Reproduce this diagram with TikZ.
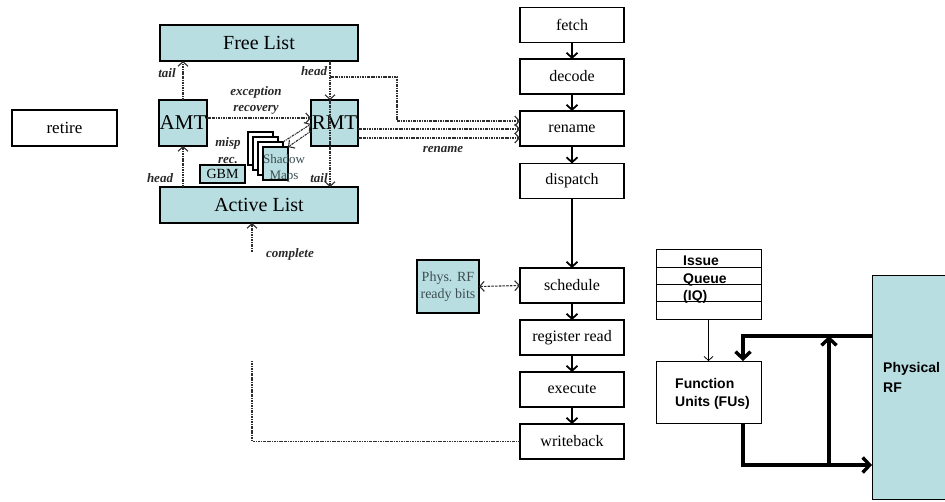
\documentclass[tikz,border=0pt]{standalone}
\usepackage{fontspec}
\setmainfont{Liberation Serif}
\setsansfont{Liberation Sans}
\usetikzlibrary{arrows.meta,calc}
\definecolor{teal1}{RGB}{185,222,225}
\definecolor{lblgray}{RGB}{40,40,40}
\definecolor{dashgray}{RGB}{45,45,45}
\definecolor{boxtxt}{RGB}{60,78,82}
\tikzset{
  stage/.style={draw, line width=1.8pt, minimum width=104pt, minimum height=35pt, inner sep=0pt, outer sep=0pt, font=\fontsize{16}{18}\selectfont},
  tbox/.style={draw, line width=1.3pt, fill=teal1, inner sep=0pt, outer sep=0pt},
  page/.style={draw, line width=1.1pt, fill=white, minimum width=25pt, minimum height=33pt, inner sep=0pt, outer sep=0pt},
  dsh/.style={draw=dashgray, line width=1.1pt, dash pattern=on 2.5pt off 0.9pt on 1pt off 0.9pt},
  lbl/.style={font=\fontsize{13}{14}\selectfont\bfseries\itshape, text=lblgray, inner sep=0pt},
  tarr/.style={-{Straight Barb[length=4.5pt,width=10pt]}},
  parr/.style={line width=1.8pt, -{Straight Barb[length=5pt,width=11pt]}},
  thk/.style={line width=3.4pt, -{Straight Barb[length=7pt,width=15pt]}},
  sflbl/.style={font=\sffamily\bfseries\fontsize{14}{17.5}\selectfont, align=left, anchor=west, inner sep=0pt}
}
\begin{document}
\begin{tikzpicture}[x=1pt,y=-1pt]
\useasboundingbox (0,0) rectangle (945,501);

% pipeline
\node[stage] (fetch) at (572,25) {fetch};
\node[stage] (decode) at (572,76.5) {decode};
\node[stage] (rename) at (572,128.5) {rename};
\node[stage] (dispatch) at (572,181) {dispatch};
\node[stage] (schedule) at (572,285.5) {schedule};
\node[stage] (regread) at (572,337.5) {register read};
\node[stage] (execute) at (572,389.5) {execute};
\node[stage] (writeback) at (572,441.5) {writeback};
\draw[parr] (fetch.south) -- (decode.north);
\draw[parr] (decode.south) -- (rename.north);
\draw[parr] (rename.south) -- (dispatch.north);
\draw[parr] (dispatch.south) -- (schedule.north);
\draw[parr] (schedule.south) -- (regread.north);
\draw[parr] (regread.south) -- (execute.north);
\draw[parr] (execute.south) -- (writeback.north);

% retire
\node[draw, line width=1.8pt, minimum width=105pt, minimum height=36pt, inner sep=0pt, outer sep=0pt, font=\fontsize{17}{19}\selectfont] (retire) at (64.5,128) {retire};

% rename structures
\node[tbox, minimum width=198pt, minimum height=36pt, font=\fontsize{20}{22}\selectfont] (FL) at (259,43) {Free List};
\node[tbox, minimum width=198pt, minimum height=36pt, font=\fontsize{20}{22}\selectfont] (AL) at (259,205) {Active List};
\node[tbox, minimum width=48pt, minimum height=46pt, font=\fontsize{21}{23}\selectfont] (AMT) at (183,123) {AMT};
\node[tbox, minimum width=47pt, minimum height=46pt, font=\fontsize{21}{23}\selectfont] (RMT) at (334.5,123) {RMT};
\node[tbox, minimum width=45pt, minimum height=18pt, font=\fontsize{14}{15}\selectfont] (GBM) at (222.5,174) {GBM};
\node[page] (sm1) at (260.5,148.5) {};
\node[page] (sm2) at (265.5,153.5) {};
\node[page] (sm3) at (270.5,158.5) {};
\node[page, fill=teal1] (sm4) at (275.5,163.5) {};
\node[font=\fontsize{13}{16}\selectfont, text=boxtxt, align=center, inner sep=0pt] (smt) at (284,168.5) {Shadow\\Maps};

% dashed connectors
\coordinate (hx) at (330,0);
\coordinate (fx) at (743,0);
\draw[dsh, tarr] (AMT.north) -- (AMT.north |- FL.south);
\draw[dsh, tarr] (AMT.south |- AL.north) -- (AMT.south);
\draw[dsh, tarr] (FL.south -| hx) -- (RMT.north -| hx);
\draw[dsh] (RMT.north -| hx) -- (RMT.south -| hx);
\draw[dsh, tarr] (RMT.south -| hx) -- (AL.north -| hx);
\coordinate (br) at (330,77);
\coordinate (b1) at (397,121);
\draw[dsh, tarr] (br) -| (b1) -- (b1 -| rename.west);
\draw[dsh, tarr] (RMT.east |- 0,129) -- (rename.west |- 0,129);
\draw[dsh, tarr] (RMT.east |- 0,138) -- (rename.west |- 0,138);
\draw[dsh, tarr] (AMT.east |- 0,118) -- (RMT.west |- 0,118);
\draw[dsh, tarr] (sm3.north east) -- (RMT.west |- 0,124);
\draw[dsh, tarr] (RMT.west |- 0,131) -- (sm4.north east);
\coordinate (cp) at (252,252);
\draw[dsh, tarr] (cp) -- (cp |- AL.south);
\coordinate (wb) at (252,360);
\draw[dsh] (writeback.west) -| (wb);

% labels
\node[lbl] (l1) at (167,73) {tail};
\node[lbl] (l2) at (314,71) {head};
\node[lbl, align=center, font=\fontsize{13}{16}\selectfont\bfseries\itshape] (l3) at (256,100) {exception\\recovery};
\node[lbl, align=center, font=\fontsize{13}{17}\selectfont\bfseries\itshape] (l4) at (228,151) {misp\\rec.};
\node[lbl] (l5) at (160,178) {head};
\node[lbl] (l6) at (319,178) {tail};
\node[lbl] (l7) at (290,254) {complete};
\node[lbl] (l8) at (443,150) {rename};

% phys RF ready bits
\node[tbox, minimum width=62pt, minimum height=53pt, align=center, text=boxtxt, font=\fontsize{14}{17}\selectfont] (prf) at (448,286.5) {Phys. RF\\ready bits};
\draw[dsh, dash pattern=on 2.5pt off 1.2pt, {Straight Barb[length=4.5pt,width=10pt]}-{Straight Barb[length=4.5pt,width=10pt]}] (prf.east) -- (schedule.west);

% right part
\node[draw, line width=1pt, minimum width=105pt, minimum height=70pt, inner sep=0pt, outer sep=0pt] (IQ) at (708.5,284) {};
\draw[line width=1pt] (IQ.west |- 0,267) -- (IQ.east |- 0,267);
\draw[line width=1pt] (IQ.west |- 0,284) -- (IQ.east |- 0,284);
\draw[line width=1pt] (IQ.west |- 0,301) -- (IQ.east |- 0,301);
\node[sflbl] (iqt) at (683,280) {Issue\\Queue\\(IQ)};
\node[draw, line width=1pt, minimum width=105pt, minimum height=62pt, inner sep=0pt, outer sep=0pt] (FU) at (708.5,392) {};
\node[sflbl] (fut) at (675,394) {Function\\Units (FUs)};
\node[draw, line width=1pt, fill=teal1, minimum width=78pt, minimum height=224pt, inner sep=0pt, outer sep=0pt, anchor=north west] (PRF) at (872,275) {};
\node[sflbl, font=\sffamily\bfseries\fontsize{14}{20}\selectfont] (prft) at (883,377) {Physical\\RF};
\draw[line width=0.8pt, -{Straight Barb[length=4pt,width=9pt]}] (IQ.south) -- (FU.north);
\draw[thk] (PRF.west |- 0,336) -| (FU.north -| fx);
\draw[thk] (FU.south -| fx) |- (PRF.west |- 0,465);
\coordinate (vj) at (829,465);
\draw[thk] (vj) -- (vj |- 0,336);
\end{tikzpicture}
\end{document}
